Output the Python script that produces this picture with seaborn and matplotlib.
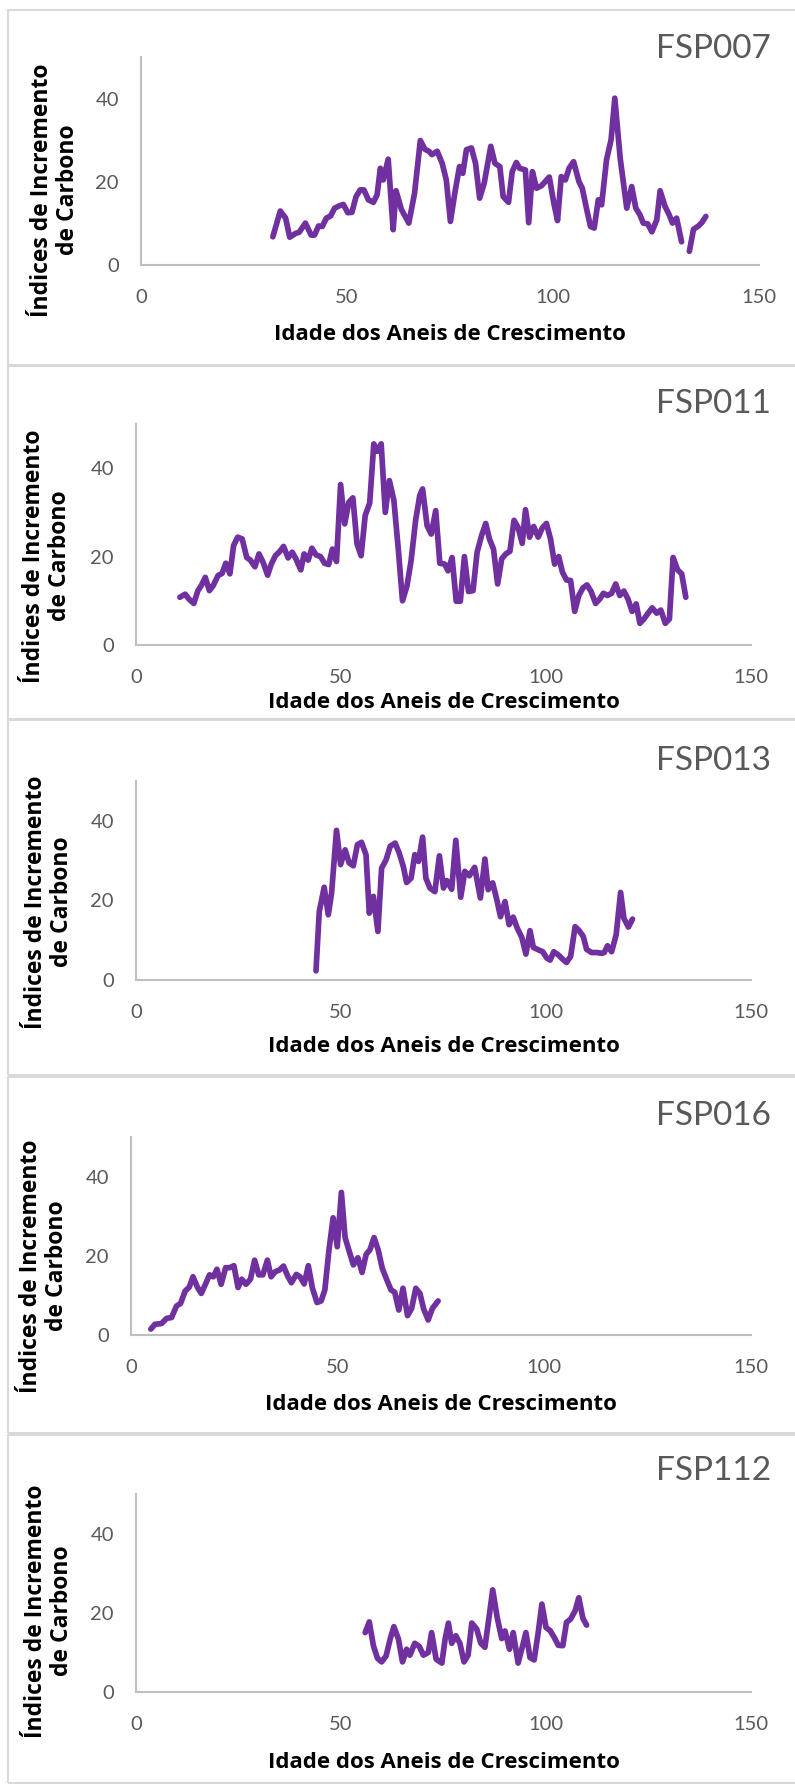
import numpy as np
import pandas as pd
import matplotlib
matplotlib.use("Agg")
import matplotlib.pyplot as plt
from matplotlib.patches import Rectangle
import seaborn as sns

# ---------------- data ----------------
titles = ["FSP007", "FSP011", "FSP013", "FSP016", "FSP112"]
x_ticks = [0, 50, 100, 150]
y_ticks = [0, 20, 40]
xlabel = "Idade dos Aneis de Crescimento"
ylabel = "Índices de Incremento\nde Carbono"

x1 = [32.0, 33.8, 35.1, 36.1, 37.5, 38.4, 39.9, 41.3, 42.1, 43.1, 44.0, 45.0, 46.0, 47.0, 48.0, 49.1, 50.2, 51.2,
      52.2, 53.2, 54.1, 55.2, 56.4, 57.3, 58.1, 58.8, 60.0, 61.2, 61.9, 63.2, 65.0, 66.4, 67.8, 68.9, 69.9, 70.6,
      71.9, 73.1, 74.1, 75.1, 76.3, 77.3, 78.1, 79.0, 80.2, 81.2, 82.2, 83.3, 84.9, 85.9, 87.1, 87.9, 89.2, 90.1,
      91.1, 91.9, 93.3, 94.1, 95.0, 96.0, 97.2, 99.1, 100.2, 101.1, 102.0, 103.0, 103.9, 105.0, 106.3, 107.1,
      108.2, 109.1, 110.0, 111.0, 111.8, 113.0, 114.1, 115.0, 116.3, 117.9, 119.1, 120.1, 121.1, 121.9, 123.0,
      124.0, 125.2, 126.0, 127.2, 128.2, 129.0, 130.0, 131.2, 132.0, 133.1, 134.1, 135.3, 136.1, 137.1]
y1 = [6.8, 13.0, 11.3, 6.7, 7.6, 7.9, 10.1, 7.2, 7.2, 9.4, 9.3, 11.3, 11.8, 13.7, 14.2, 14.6, 12.6, 12.7,
      16.5, 18.1, 18.1, 15.7, 15.1, 16.9, 23.3, 20.5, 25.5, 8.5, 17.9, 13.4, 10.1, 17.3, 30.0, 27.9, 27.4, 26.6,
      27.4, 24.5, 20.5, 10.5, 18.1, 23.7, 22.1, 27.8, 28.2, 24.5, 16.1, 19.7, 28.6, 24.5, 23.7, 16.5, 15.1, 22.5,
      24.7, 23.3, 22.9, 10.2, 22.5, 18.5, 19.1, 21.2, 14.9, 10.7, 21.3, 20.5, 23.3, 24.9, 20.1, 18.5,
      13.3, 9.3, 8.9, 15.7, 14.5, 25.4, 30.2, 40.2, 25.8, 13.7, 18.9, 13.7, 12.1, 10.1, 9.9,
      8.0, 10.9, 17.9, 14.1, 12.1, 10.1, 11.3, 5.6, np.nan, 3.3, 8.6, 9.4, 10.2, 11.7]

x2 = [10.7, 12.0, 12.9, 14.1, 15.1, 15.9, 16.9, 17.9, 18.8, 20.0, 21.0, 21.9, 22.9, 23.8, 24.8, 25.9, 27.0, 27.9,
      29.0, 30.0, 31.0, 32.1, 33.0, 34.0, 35.0, 36.0, 37.1, 38.1, 39.0, 40.2, 41.0, 42.0, 42.9, 43.9, 45.0, 46.0,
      47.0, 47.9, 48.9, 49.9, 50.9, 51.9, 52.9, 53.9, 54.9, 55.9, 57.0, 58.0, 58.8, 59.8, 60.8, 61.8, 62.9, 64.0,
      65.0, 66.1, 67.1, 68.2, 69.2, 69.9, 71.0, 72.0, 73.1, 74.1, 75.3, 76.1, 77.1, 78.1, 79.1, 80.1, 81.1, 82.2,
      83.2, 84.3, 85.3, 86.2, 87.2, 88.2, 89.2, 90.2, 91.2, 92.2, 93.2, 94.2, 95.0, 96.0, 97.0, 98.1, 99.1, 100.1,
      101.1, 102.1, 103.1, 104.0, 105.0, 106.0, 107.0, 108.0, 109.0, 110.0, 111.0, 112.1, 113.1, 114.0, 115.0,
      116.0, 117.0, 118.0, 119.0, 120.0, 121.0, 122.0, 122.9, 123.9, 124.9, 125.9, 127.0, 128.0, 129.1, 130.1,
      131.0, 132.1, 133.1, 134.1]
y2 = [10.8, 11.5, 10.4, 9.4, 12.3, 13.4, 15.3, 12.3, 13.4, 15.7, 16.2, 18.5, 16.1, 22.5, 24.4, 24.0, 19.8, 19.2,
      17.7, 20.6, 18.7, 15.8, 18.3, 20.2, 21.1, 22.3, 19.7, 21.0, 19.5, 17.0, 20.6, 19.2, 21.9, 20.4, 20.0, 18.5,
      18.2, 21.7, 18.9, 36.3, 27.4, 32.3, 33.3, 22.9, 20.2, 29.3, 32.1, 45.5, 43.8, 45.5, 30.0, 37.2, 32.7, 21.4,
      10.0, 13.4, 19.1, 28.2, 33.8, 35.3, 27.0, 25.1, 30.4, 18.5, 18.3, 16.8, 19.8, 9.9, 9.9, 20.0, 12.1, 12.3,
      21.0, 24.8, 27.5, 24.0, 21.7, 13.8, 19.5, 20.6, 21.2, 28.2, 26.6, 23.0, 30.6, 24.4, 26.8, 24.4, 26.5, 27.5,
      24.0, 18.3, 20.0, 16.5, 14.7, 14.6, 7.6, 11.2, 12.9, 13.6, 12.1, 9.4, 10.4, 11.7, 11.2,
      11.7, 13.8, 11.2, 12.2, 10.4, 7.6, 9.3, 4.9, 5.9, 7.2, 8.4, 7.2, 7.9, 4.9, 5.9,
      19.8, 17.0, 16.1, 10.8]

x3 = [43.9, 44.7, 45.9, 46.9, 47.7, 48.9, 49.9, 51.0, 52.0, 53.0, 54.0, 55.0, 56.1, 56.9, 57.9, 59.0, 59.9, 61.0,
      62.0, 63.2, 64.2, 65.2, 66.0, 67.1, 68.0, 68.9, 69.9, 70.7, 71.7, 72.9, 74.0, 75.0, 75.8, 77.0, 78.0, 79.2,
      80.2, 81.3, 82.6, 84.0, 85.1, 85.9, 87.0, 88.0, 88.9, 90.0, 91.0, 92.0, 93.0, 94.1, 95.1, 96.1, 96.9, 98.1,
      99.2, 100.2, 101.0, 101.9, 103.0, 104.1, 105.0, 106.0, 107.1, 108.1, 109.1, 109.9, 111.1, 112.4, 113.6,
      114.2, 115.0, 116.0, 117.1, 118.2, 119.0, 120.1, 121.1]
y3 = [2.3, 17.2, 23.3, 16.4, 21.8, 37.6, 29.0, 32.7, 29.4, 28.7, 34.0, 34.6, 31.5, 16.8, 21.0, 12.2, 28.1, 30.2,
      33.6, 34.4, 31.9, 28.5, 24.5, 25.6, 31.5, 29.8, 35.9, 25.6, 23.1, 22.2, 31.2, 23.1, 25.0, 22.8, 35.1, 20.8,
      27.3, 26.2, 28.3, 20.6, 30.4, 22.7, 24.4, 20.2, 15.9, 19.7, 13.9, 15.8, 13.0, 10.7, 6.5, 12.4, 8.2, 7.6,
      7.1, 5.5, 5.0, 7.1, 6.3, 5.2, 4.4, 5.9, 13.4, 12.4, 10.9, 7.7, 6.9, 6.9, 6.7,
      6.9, 8.6, 7.1, 11.3, 22.0, 15.5, 13.3, 15.3]

x4 = [4.8, 5.8, 7.4, 8.6, 9.8, 11.0, 12.0, 13.1, 14.1, 15.0, 16.1, 17.0, 18.0, 19.0, 19.9, 20.8, 21.8, 22.9, 23.9,
      24.9, 25.9, 26.8, 27.8, 28.9, 29.9, 30.9, 31.9, 33.0, 33.9, 34.9, 35.9, 36.9, 37.9, 38.8, 40.0, 40.9, 41.9,
      42.9, 43.9, 45.0, 46.0, 46.9, 47.9, 48.9, 49.9, 50.9, 51.8, 52.8, 53.8, 54.9, 55.9, 56.9, 57.8, 58.8, 59.8,
      60.8, 61.9, 62.9, 63.8, 64.8, 65.8, 66.9, 67.9, 68.9, 69.9, 70.8, 71.9, 72.9, 74.3]
y4 = [1.5, 2.7, 2.9, 4.2, 4.4, 7.3, 8.0, 11.1, 12.1, 14.7, 12.0, 10.5, 12.8, 15.2, 14.7, 16.6, 12.8, 17.0, 17.0,
      17.5, 12.0, 14.1, 12.8, 14.1, 18.9, 15.2, 15.2, 18.9, 14.7, 16.0, 16.4, 17.4, 14.9, 13.2, 15.3, 14.7, 12.9,
      17.5, 11.8, 8.2, 8.6, 11.4, 21.5, 29.6, 22.3, 36.0, 24.6, 21.1, 17.7, 19.5, 15.8, 20.4, 21.5, 24.6, 21.5,
      16.8, 13.9, 11.4, 10.8, 6.3, 11.8, 4.9, 6.7, 11.8, 10.5, 6.6, 3.8, 6.7, 8.6]

x5 = [55.9, 56.9, 57.9, 58.9, 59.9, 61.0, 62.0, 62.9, 64.0, 65.0, 66.0, 66.8, 68.0, 69.1, 70.1, 71.3, 72.1, 73.2,
      74.6, 75.4, 76.2, 77.0, 78.0, 79.0, 80.0, 81.0, 81.9, 83.1, 84.1, 85.1, 86.2, 87.0, 88.1, 89.2, 90.0, 91.1,
      92.0, 93.2, 94.3, 95.1, 96.1, 97.1, 98.1, 99.0, 100.0, 101.0, 102.0, 103.0, 104.1, 105.0, 106.0, 107.1,
      108.0, 109.0, 109.9]
y5 = [15.0, 17.7, 11.7, 8.5, 7.6, 9.1, 13.4, 16.5, 13.4, 7.6, 10.8, 9.3, 12.3, 11.5, 9.3, 10.0, 15.0, 8.3,
      7.3, 13.4, 17.4, 12.3, 14.2, 12.3, 7.6, 9.3, 17.4, 15.9, 12.3, 11.3, 19.6, 25.8, 18.8, 13.5, 15.4, 10.8,
      15.0, 7.3, 11.7, 15.0, 8.7, 8.1, 15.0, 22.2, 16.3, 15.5, 13.8, 11.8, 11.7, 17.6, 18.4, 20.5,
      23.8, 18.6, 16.9]

series = [(x1, y1), (x2, y2), (x3, y3), (x4, y4), (x5, y5)]

# ---------------- styling ----------------
sns.set_theme(style="white")
plt.rcParams["font.family"] = ["Lato", "DejaVu Sans"]
LABEL_FONT = ["Open Sans", "DejaVu Sans"]

W, H = 795, 1784
LINE_COLOR = "#7030A0"
AXIS_COLOR = "#BFBFBF"
TEXT_GRAY = "#595959"
FRAME_COLOR = "#D9D9D9"

# layout in pixels: axes (left, right, top, bottom)
axes_px = [(141, 759, 57.5, 265), (136, 751, 424, 645), (136, 751, 781, 980),
           (131, 751, 1137, 1335), (136, 751, 1494, 1692)]
frames_px = [(8, 10, 365), (8, 366, 719), (8, 720, 1075), (8, 1077, 1433), (8, 1435, 1783)]
title_y = [49, 404, 761, 1116, 1471]
ylab_pos = [(55, 190), (47, 556), (49, 902), (44, 1266), (49, 1611)]
xlab_y = [335, 702, 1046, 1405, 1762]

fig = plt.figure(figsize=(W / 100, H / 100), dpi=100)
fig.patch.set_facecolor("white")

for (fl, ft, fb) in frames_px:
    fig.add_artist(Rectangle((fl / W, 1 - fb / H), (W + 20 - fl) / W, (fb - ft) / H,
                             transform=fig.transFigure, fill=False,
                             edgecolor=FRAME_COLOR, linewidth=1.5))

for i, ((xs, ys), (l, r, t, b)) in enumerate(zip(series, axes_px)):
    ax = fig.add_axes([l / W, 1 - b / H, (r - l) / W, (b - t) / H])
    df = pd.DataFrame({"x": xs, "y": ys})
    df["seg"] = df["y"].isna().cumsum()
    df = df.dropna()
    sns.lineplot(data=df, x="x", y="y", units="seg", estimator=None, sort=False,
                 color=LINE_COLOR, linewidth=4.1, ax=ax, legend=False)
    for ln in ax.lines:
        ln.set_solid_capstyle("round")
        ln.set_solid_joinstyle("round")
        ln.set_clip_on(False)
    ax.set_xlim(0, 150)
    ax.set_ylim(0, 50)
    ax.set_xticks(x_ticks)
    ax.set_yticks(y_ticks)
    ax.set_xlabel("")
    ax.set_ylabel("")
    ax.tick_params(axis="both", length=0, labelsize=14.5, labelcolor=TEXT_GRAY)
    ax.tick_params(axis="x", pad=17)
    ax.tick_params(axis="y", pad=16)
    for s in ["top", "right"]:
        ax.spines[s].set_visible(False)
    for s in ["left", "bottom"]:
        ax.spines[s].set_color(AXIS_COLOR)
        ax.spines[s].set_linewidth(1.5)
    ax.grid(False)
    ax.set_facecolor("none")

    fig.text(771 / W, 1 - title_y[i] / H, titles[i], ha="right", va="center",
             fontsize=24, color=TEXT_GRAY, fontweight="normal")
    yx, yy = ylab_pos[i]
    fig.text(yx / W, 1 - yy / H, ylabel, rotation=90, ha="center", va="center",
             multialignment="center", fontsize=16.5, fontweight="bold", color="black",
             linespacing=1.15, family=LABEL_FONT)
    fig.text(((l + r) / 2) / W, 1 - xlab_y[i] / H, xlabel, ha="center", va="center",
             fontsize=16, fontweight="bold", color="black", family=LABEL_FONT)

fig.savefig("out.png", dpi=100, facecolor="white")
